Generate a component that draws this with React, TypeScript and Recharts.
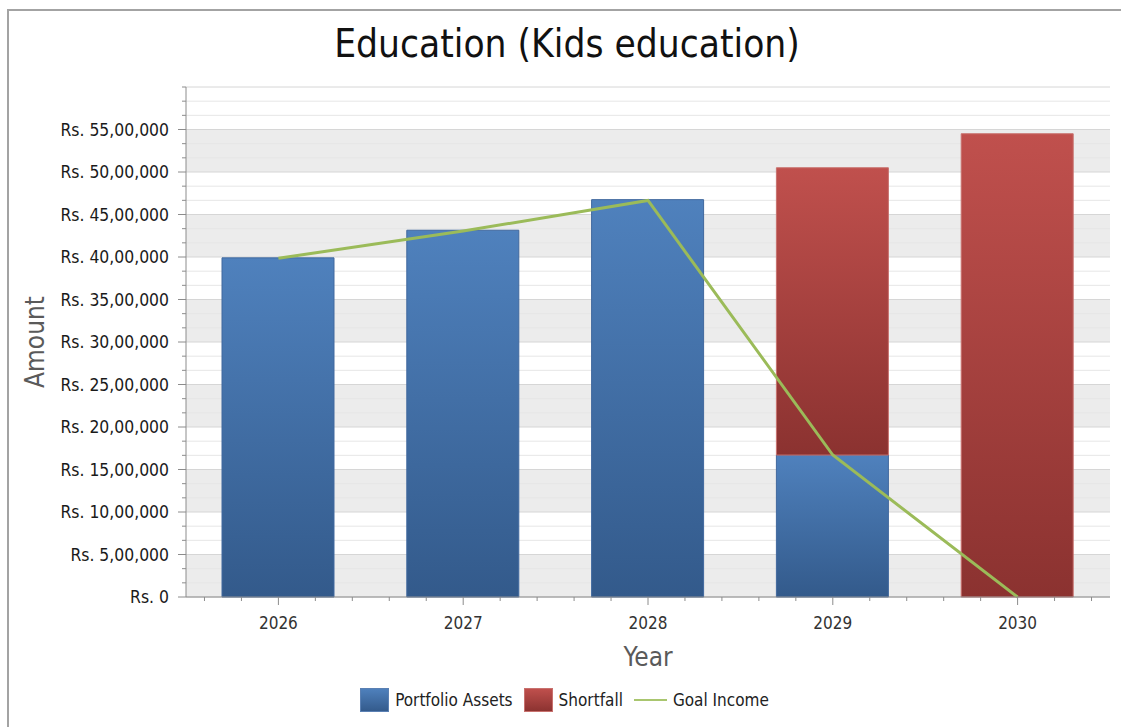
import { ComposedChart, Bar, Line, XAxis, YAxis, CartesianGrid, Legend, Label } from "recharts";

const years = ["2026", "2027", "2028", "2029", "2030"];
const portfolioAssets = [3990000, 4315000, 4675000, 1670000, 0];
const shortfall = [0, 0, 0, 3380000, 5450000];
const goalIncome = [3985000, 4305000, 4665000, 1670000, 0];

const yMajorTicks = [0, 500000, 1000000, 1500000, 2000000, 2500000, 3000000, 3500000, 4000000, 4500000, 5000000, 5500000];
const yMax = 6000000;
const legendOrder = ["Portfolio Assets", "Shortfall", "Goal Income"];

const data = years.map((year, i) => ({
  year,
  portfolio: portfolioAssets[i],
  shortfall: shortfall[i],
  goal: goalIncome[i],
}));

// minor ticks: each 5L step split in three
const gridMajor = [...yMajorTicks, yMax];
const gridMinor: number[] = [];
yMajorTicks.forEach((v) => {
  gridMinor.push(v + 500000 / 3, v + (2 * 500000) / 3);
});
const yAllTicks = [...gridMajor, ...gridMinor].sort((a, b) => a - b);

const W = 1121;
const H = 727;
const PLOT_LEFT = 186;
const PLOT_RIGHT = 1110;
const PLOT_TOP = 87;
const PLOT_BOTTOM = 597;
const BAND = (PLOT_RIGHT - PLOT_LEFT) / years.length;

const FONT = "'DejaVu Sans Condensed', 'DejaVu Sans', sans-serif";
const AXIS = "#8c8c8c";

function formatRs(v: number) {
  const s = String(Math.round(v));
  if (s.length <= 3) return "Rs. " + s;
  const last3 = s.slice(-3);
  let rest = s.slice(0, -3);
  const parts: string[] = [];
  while (rest.length > 2) {
    parts.unshift(rest.slice(-2));
    rest = rest.slice(0, -2);
  }
  if (rest) parts.unshift(rest);
  return "Rs. " + parts.join(",") + "," + last3;
}

function YTick(props: any) {
  const { x, y, payload } = props;
  const major = yMajorTicks.includes(payload.value);
  return (
    <g>
      <line x1={x - (major ? 8 : 4)} x2={x} y1={y} y2={y} stroke={AXIS} />
      {major && (
        <text x={x - 17} y={y} dy={6} textAnchor="end" fontFamily={FONT} fontSize={17.4} fill="#1a1a1a">
          {formatRs(payload.value)}
        </text>
      )}
    </g>
  );
}

function XTick(props: any) {
  const { x, y, payload } = props;
  const half = typeof payload.offset === "number" && payload.offset > 0 ? payload.offset : BAND / 2;
  const step = (half * 2) / 5;
  return (
    <g>
      {[-2, -1, 1, 2].map((k) => (
        <line key={k} x1={x + k * step} x2={x + k * step} y1={y} y2={y + 4} stroke={AXIS} />
      ))}
      <line x1={x} x2={x} y1={y} y2={y + 8} stroke={AXIS} />
      <text x={x} y={y + 32} textAnchor="middle" fontFamily={FONT} fontSize={17} fill="#333">
        {payload.value}
      </text>
    </g>
  );
}

function LegendContent(props: any) {
  const items = [...(props.payload || [])].sort(
    (a: any, b: any) => legendOrder.indexOf(a.value) - legendOrder.indexOf(b.value)
  );
  return (
    <div style={{ display: "flex", justifyContent: "center", alignItems: "center", fontFamily: FONT, fontSize: 17, color: "#222" }}>
      {items.map((it: any) => (
        <div key={it.value} style={{ display: "flex", alignItems: "center", marginRight: 11 }}>
          {it.type === "line" ? (
            <svg width={34} height={24} style={{ marginRight: 5 }}>
              <line x1={0} x2={33} y1={12} y2={12} stroke="#a9c66f" strokeWidth={2} />
            </svg>
          ) : (
            <svg width={29} height={24} style={{ marginRight: 6 }}>
              <rect x={0.5} y={0.5} width={28} height={23} fill={it.color} stroke={it.value === "Shortfall" ? "#c8716e" : "#5a80b3"} />
            </svg>
          )}
          <span>{it.value}</span>
        </div>
      ))}
    </div>
  );
}

export default function App() {
  return (
    <div style={{ position: "absolute", left: 0, top: 0, width: W, height: H, background: "#fff", overflow: "hidden" }}>
      <div
        style={{
          position: "absolute",
          left: 7,
          top: 9,
          width: W,
          height: H,
          borderTop: "2px solid #a3a3a3",
          borderLeft: "2px solid #a3a3a3",
        }}
      />
      <div
        style={{
          position: "absolute",
          left: 10,
          width: W - 7,
          top: 21,
          textAlign: "center",
          fontFamily: FONT,
          fontSize: 38.5,
          color: "#111",
          lineHeight: "46px",
        }}
      >
        Education (Kids education)
      </div>
      <div style={{ position: "absolute", left: 0, top: 0 }}>
        <ComposedChart
          width={W}
          height={H}
          data={data}
          margin={{ top: PLOT_TOP, right: W - PLOT_RIGHT, bottom: 0, left: 0 }}
        >
          <defs>
            <linearGradient id="blueGrad" x1="0" y1="0" x2="0" y2="1">
              <stop offset="0%" stopColor="#4f81bd" />
              <stop offset="100%" stopColor="#335a8b" />
            </linearGradient>
            <linearGradient id="redGrad" x1="0" y1="0" x2="0" y2="1">
              <stop offset="0%" stopColor="#c0504d" />
              <stop offset="100%" stopColor="#8b3230" />
            </linearGradient>
          </defs>
          <CartesianGrid
            vertical={false}
            horizontalValues={gridMajor}
            horizontalFill={["#ffffff", "#ececec"]}
            stroke="#d6d6d6"
          />
          <CartesianGrid vertical={false} horizontalValues={gridMinor} stroke="#e6e6e6" />
          <XAxis
            dataKey="year"
            height={H - PLOT_BOTTOM}
            interval={0}
            tickSize={0}
            tickMargin={0}
            tickLine={false}
            axisLine={{ stroke: AXIS }}
            tick={<XTick />}
          >
            <Label
              content={(p: any) => {
                const vb = p.viewBox || {};
                return (
                  <text x={vb.x + vb.width / 2} y={vb.y + 69} textAnchor="middle" fontFamily={FONT} fontSize={26} fill="#5a5a5a">
                    Year
                  </text>
                );
              }}
            />
          </XAxis>
          <XAxis xAxisId="top" dataKey="year" orientation="top" height={0} tick={false} tickLine={false} axisLine={{ stroke: "#a0a0a0" }} />
          <YAxis
            width={PLOT_LEFT}
            domain={[0, yMax]}
            ticks={yAllTicks}
            interval={0}
            tickSize={0}
            tickMargin={0}
            tickLine={false}
            axisLine={{ stroke: AXIS }}
            tick={<YTick />}
          >
            <Label
              content={(p: any) => {
                const vb = p.viewBox || {};
                const cx = vb.x + 35;
                const cy = vb.y + vb.height / 2;
                return (
                  <text
                    x={cx}
                    y={cy}
                    dy={9}
                    transform={`rotate(-90 ${cx} ${cy})`}
                    textAnchor="middle"
                    fontFamily={FONT}
                    fontSize={26}
                    fill="#5a5a5a"
                  >
                    Amount
                  </text>
                );
              }}
            />
          </YAxis>
          <YAxis yAxisId="right" orientation="right" width={0} domain={[0, yMax]} tick={false} tickLine={false} axisLine={{ stroke: "#a0a0a0" }} />
          <Legend
            layout="horizontal"
            verticalAlign="middle"
            align="center"
            width={W - 7}
            wrapperStyle={{ left: 13, top: 688, width: W - 7 }}
            content={<LegendContent />}
          />
          <Bar dataKey="portfolio" name="Portfolio Assets" stackId="a" barSize={112} fill="url(#blueGrad)" stroke="#41689e" strokeWidth={1} isAnimationActive={false} />
          <Bar dataKey="shortfall" name="Shortfall" stackId="a" barSize={112} fill="url(#redGrad)" stroke="#c8716e" strokeWidth={1} isAnimationActive={false} />
          <Line dataKey="goal" name="Goal Income" type="linear" stroke="#9bbb59" strokeWidth={3} dot={false} activeDot={false} legendType="line" isAnimationActive={false} />
        </ComposedChart>
      </div>
    </div>
  );
}
